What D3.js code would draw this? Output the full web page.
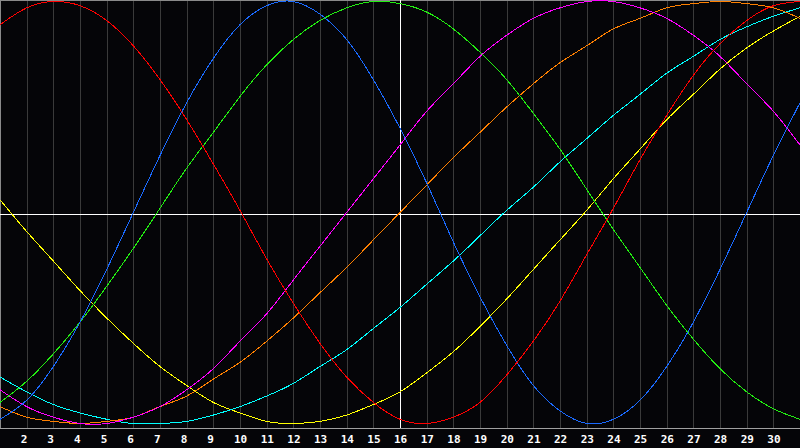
<!DOCTYPE html>
<html>
<head>
<meta charset="utf-8">
<script src="https://cdn.jsdelivr.net/npm/d3@7"></script>
<style>
  html, body { margin: 0; padding: 0; background: #050508; }
  svg { display: block; }
  .day { font: bold 11px "DejaVu Sans Mono", monospace; fill: #ffffff; }
</style>
</head>
<body>
<div class="viz"></div>
<script>
// days along the x axis, the marked day and tick labels
const days = [1,2,3,4,5,6,7,8,9,10,11,12,13,14,15,16,17,18,19,20,21,22,23,24,25,26,27,28,29,30,31]
const today = 16
const tickDays = [2,3,4,5,6,7,8,9,10,11,12,13,14,15,16,17,18,19,20,21,22,23,24,25,26,27,28,29,30]

// cycle values in percent, one per day
const red     = [89, 97, 100, 98, 91, 79, 63, 44, 23, 1, -22, -43, -62, -78, -90, -98, -100, -97, -90, -77, -61, -42, -20, 2, 25, 46, 65, 80, 91, 98, 100]
const blue    = [-98, -89, -73, -52, -27, 0, 27, 52, 73, 89, 98, 100, 94, 82, 63, 40, 14, -14, -40, -63, -82, -94, -100, -98, -89, -73, -52, -27, 0, 27, 52]
const green   = [-90, -80, -67, -52, -35, -17, 2, 21, 38, 55, 70, 82, 91, 97, 100, 99, 95, 87, 76, 63, 47, 30, 11, -8, -26, -44, -60, -74, -85, -93, -98]
const magenta = [-84, -92, -97, -100, -100, -97, -92, -84, -74, -61, -48, -32, -16, 0, 16, 32, 48, 61, 74, 84, 92, 97, 100, 100, 97, 92, 84, 74, 61, 48, 32]
const orange  = [-92, -97, -99, -100, -99, -97, -92, -87, -79, -71, -61, -50, -38, -26, -13, 0, 13, 26, 38, 50, 61, 71, 79, 87, 92, 97, 99, 100, 99, 97, 92]
const cyan    = [-78, -85, -91, -95, -98, -100, -100, -99, -96, -92, -87, -81, -73, -65, -55, -45, -34, -23, -11, 1, 12, 24, 35, 46, 56, 66, 74, 82, 88, 93, 97]
const yellow  = [6, -9, -23, -37, -50, -62, -73, -82, -90, -95, -99, -100, -99, -96, -91, -85, -76, -66, -54, -41, -27, -13, 1, 16, 30, 44, 56, 68, 78, 86, 93]

const series = [
  {name: 'yellow', values: yellow, color: '#ffff00'},
  {name: 'cyan', values: cyan, color: '#00ffff'},
  {name: 'orange', values: orange, color: '#ff8000'},
  {name: 'magenta', values: magenta, color: '#ff00ff'},
  {name: 'green', values: green, color: '#22ee11'},
  {name: 'blue', values: blue, color: '#1a6aff'},
  {name: 'red', values: red, color: '#ff0000'}
]

const width = 800
const height = 448
const plotBottom = 428

const x = d3.scaleLinear().domain([1, 31]).range([0, width])
const y = d3.scaleLinear().domain([-100, 100]).range([423.5, 1.5])

const svg = d3.select('.viz').append('svg')
  .attr('width', width)
  .attr('height', height)

svg.append('rect')
  .attr('width', width)
  .attr('height', height)
  .attr('fill', '#050508')

// day grid
svg.append('g')
  .attr('shape-rendering', 'crispEdges')
  .selectAll('line')
  .data(tickDays)
  .join('line')
    .attr('x1', d => Math.round(x(d)) + 0.5)
    .attr('x2', d => Math.round(x(d)) + 0.5)
    .attr('y1', 1)
    .attr('y2', plotBottom)
    .attr('stroke', '#3a3a3a')

// frame
const frame = svg.append('g').attr('shape-rendering', 'crispEdges')
frame.append('line')
  .attr('x1', 0).attr('x2', width).attr('y1', 0.5).attr('y2', 0.5)
  .attr('stroke', '#8a8a8a')
frame.append('line')
  .attr('x1', 0.5).attr('x2', 0.5).attr('y1', 0).attr('y2', plotBottom)
  .attr('stroke', '#8a8a8a')
frame.append('line')
  .attr('x1', 0).attr('x2', width).attr('y1', plotBottom + 0.5).attr('y2', plotBottom + 0.5)
  .attr('stroke', '#a0a0a0')

// crosshair for the marked day
frame.append('line')
  .attr('x1', 0).attr('x2', width)
  .attr('y1', plotBottom / 2 + 0.5).attr('y2', plotBottom / 2 + 0.5)
  .attr('stroke', '#ffffff')
frame.append('line')
  .attr('x1', Math.round(x(today)) + 0.5).attr('x2', Math.round(x(today)) + 0.5)
  .attr('y1', 0).attr('y2', plotBottom)
  .attr('stroke', '#ffffff')

// cycles
const line = d3.line()
  .x((d, i) => x(days[i]))
  .y(d => y(d))
  .curve(d3.curveNatural)

svg.append('g')
  .attr('shape-rendering', 'crispEdges')
  .selectAll('path')
  .data(series)
  .join('path')
    .attr('d', d => line(d.values))
    .attr('fill', 'none')
    .attr('stroke', d => d.color)
    .attr('stroke-width', 1)

// day labels
svg.append('g')
  .selectAll('text')
  .data(tickDays)
  .join('text')
    .attr('class', 'day')
    .attr('x', d => x(d) - 6)
    .attr('y', 443)
    .text(d => d)
</script>
</body>
</html>
